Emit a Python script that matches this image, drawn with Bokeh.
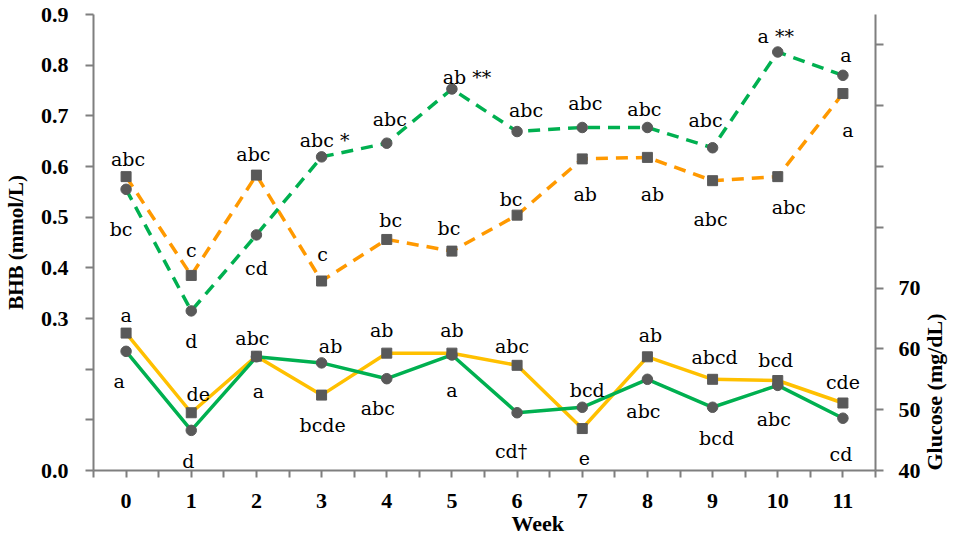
from math import pi
from bokeh.plotting import figure
from bokeh.models import (Range1d, LinearAxis, FixedTicker, ColumnDataSource,
                          PrintfTickFormatter, Title)
from bokeh.core.properties import value
from bokeh.embed import file_html
from bokeh.resources import INLINE

# ---------------- data ----------------
weeks = [0, 1, 2, 3, 4, 5, 6, 7, 8, 9, 10, 11]

# BHB (mmol/L), left axis, dashed lines
bhb_green = [0.555, 0.315, 0.465, 0.619, 0.646, 0.753, 0.669, 0.677, 0.677, 0.637, 0.826, 0.780]
bhb_orange = [0.580, 0.385, 0.583, 0.374, 0.456, 0.433, 0.504, 0.615, 0.618, 0.572, 0.580, 0.744]

# Glucose (mg/dL), right axis, solid lines
glu_green = [59.6, 46.6, 58.7, 57.7, 55.1, 59.0, 49.5, 50.4, 55.0, 50.4, 54.0, 48.6]
glu_yellow = [62.6, 49.5, 58.8, 52.4, 59.3, 59.3, 57.3, 46.9, 58.7, 55.0, 54.8, 51.1]

# significance letters
bhb_green_letters = ["bc", "d", "cd", "abc *", "abc", "ab **", "abc", "abc", "abc", "abc", "a **", "a"]
bhb_orange_letters = ["abc", "c", "abc", "c", "bc", "bc", "bc", "ab", "ab", "abc", "abc", "a"]
glu_green_letters = ["a", "d", "a", "ab", "abc", "a", "cd\u2020", "bcd", "abc", "bcd", "abc", "cd"]
glu_yellow_letters = ["a", "de", "abc", "bcde", "ab", "ab", "abc", "e", "ab", "abcd", "bcd", "cde"]

left_ticks = [0.0, 0.3, 0.4, 0.5, 0.6, 0.7, 0.8, 0.9]
left_minor = [0.1, 0.2]
right_ticks = [40, 50, 60, 70]
right_minor = [80, 90, 100, 110]

# ---------------- label offsets (pixels, layout only) ----------------
bg_dx = [-5, 0, 0, 3, 3, 15, 9, 3, -3, -7, -2, 3]
bg_dy = [40, 30, 33, -17, -24, -12, -22, -24, -18, -28, -16, -20]
bo_dx = [2, 0, -3, 1, 4, -3, -6, 3, 5, -2, 11, 5]
bo_dy = [-18, -25, -21, -27, -19, -23, -16, 35, 37, 38, 30, 36]
gg_dx = [-7, -3, 2, 9, -9, 0, -6, 5, -4, 4, -4, -2]
gg_dy = [30, 31, 34, -17, 29, 35, 38, -17, 32, 31, 34, 36]
gy_dx = [0, 7, -4, 1, -5, 0, -5, 2, 3, 2, -2, 0]
gy_dy = [-18, -19, -18, 30, -23, -23, -19, 29, -22, -22, -21, -21]

GREEN = "#00B050"
ORANGE = "#FF9900"
YELLOW = "#FFC000"
MARK = "#595959"
AXIS = "#7f7f7f"
SERIF = "Liberation Serif"
LFONT = "DejaVu Serif"

p = figure(width=962, height=541, output_backend="svg", toolbar_location=None,
           x_range=Range1d(-0.5, 11.5), y_range=Range1d(0, 0.9),
           min_border_left=90, min_border_right=81, min_border_top=14, min_border_bottom=71)
p.extra_y_ranges = {"glu": Range1d(40, 115)}
p.xgrid.visible = False
p.ygrid.visible = False
p.outline_line_color = None
p.background_fill_color = "white"
p.border_fill_color = "white"

AXPROPS = LinearAxis.properties()

def style_axis(ax):
    ax.axis_line_color = AXIS
    ax.axis_line_width = 2
    ax.major_tick_line_color = AXIS
    ax.minor_tick_line_color = AXIS
    ax.major_tick_line_width = 2
    ax.minor_tick_line_width = 2
    ax.major_tick_in = 0
    ax.minor_tick_in = 0
    ax.major_tick_out = 8
    ax.minor_tick_out = 8
    ax.major_label_text_font = SERIF
    ax.major_label_text_font_style = "bold"
    ax.major_label_text_font_size = "22px"
    ax.major_label_text_color = "black"
    ax.axis_label_text_font = SERIF
    ax.axis_label_text_font_style = "bold"
    ax.axis_label_text_font_size = "21px"
    ax.axis_label_text_color = "black"

xa = p.xaxis[0]
xa.ticker = FixedTicker(ticks=weeks, minor_ticks=[w - 0.5 for w in weeks] + [11.5])
style_axis(xa)
xa.major_tick_out = 7
xa.minor_tick_out = 7
xa.major_label_standoff = 16

ya = p.yaxis[0]
ya.ticker = FixedTicker(ticks=left_ticks, minor_ticks=left_minor)
ya.formatter = PrintfTickFormatter(format="%.1f")
style_axis(ya)
ya.major_label_standoff = 17
ya.axis_label = "BHB (mmol/L)"
ya.axis_label_standoff = 10

ra = LinearAxis(y_range_name="glu", ticker=FixedTicker(ticks=right_ticks, minor_ticks=right_minor))
style_axis(ra)
ra.major_label_standoff = 15
ra.axis_label = "Glucose (mg/dL)"
ra.axis_label_text_font_size = "22px"
ra.axis_label_standoff = 11
if "axis_label_orientation" in AXPROPS:
    ra.axis_label_orientation = pi / 2
if "axis_label_align" in AXPROPS:
    ra.axis_label_align = "start"
p.add_layout(ra, "right")

# x-axis title placed as a below-title so it can be offset horizontally
p.add_layout(Title(text="Week", align="left", offset=418, standoff=-4,
                   text_font=SERIF, text_font_style="bold", text_font_size="22px",
                   text_color="black"), "below")

# lines
p.line(weeks, bhb_orange, color=ORANGE, line_width=3.5, line_dash="12 8")
p.line(weeks, bhb_green, color=GREEN, line_width=3.5, line_dash="12 8")
p.line(weeks, glu_yellow, color=YELLOW, line_width=3.5, y_range_name="glu")
p.line(weeks, glu_green, color=GREEN, line_width=3.5, y_range_name="glu")

# markers
p.scatter(weeks, bhb_orange, marker="square", size=10, color=MARK)
p.scatter(weeks, bhb_green, marker="circle", size=10.5, color=MARK)
p.scatter(weeks, glu_yellow, marker="square", size=10, color=MARK, y_range_name="glu")
p.scatter(weeks, glu_green, marker="circle", size=10.5, color=MARK, y_range_name="glu")

def letters(vals, txt, dx, dy, rng=None):
    src = ColumnDataSource(dict(x=weeks, y=vals, t=txt, dx=dx, dy=dy))
    kw = dict(x="x", y="y", text="t", x_offset="dx", y_offset="dy", source=src,
              text_align="center", text_baseline="middle", text_color="black",
              text_font=value(LFONT), text_font_size="19px")
    if rng:
        kw["y_range_name"] = rng
    p.text(**kw)

letters(bhb_green, bhb_green_letters, bg_dx, bg_dy)
letters(bhb_orange, bhb_orange_letters, bo_dx, bo_dy)
letters(glu_green, glu_green_letters, gg_dx, gg_dy, "glu")
letters(glu_yellow, glu_yellow_letters, gy_dx, gy_dy, "glu")

open("out.html", "w").write(file_html(p, INLINE))
